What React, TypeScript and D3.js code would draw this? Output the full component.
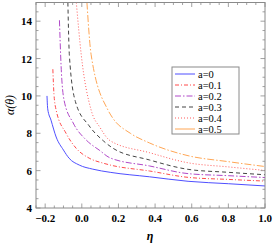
import React, { useEffect, useRef } from 'react';
import * as d3 from 'd3';

const labels = ['a=0', 'a=0.1', 'a=0.2', 'a=0.3', 'a=0.4', 'a=0.5'];
const colors = ['#4f4fff', '#ff4b4b', '#b048c8', '#444444', '#ff5a5a', '#ffa655'];
const dashes = ['none', '4,2,1,2', '6,2,1.5,2', '4,3', '1,2', '7,2,1.5,2'];

const eta0 = [-0.19, -0.186, -0.168, -0.14, -0.10, -0.07, -0.014, 0.06, 0.155, 0.37, 0.58, 0.8, 1.0];
const alpha0 = [10.0, 9.3, 8.7, 7.8, 7.1, 6.67, 6.3, 6.08, 5.91, 5.67, 5.43, 5.3, 5.18];
const eta1 = [-0.158, -0.152, -0.14, -0.086, -0.031, 0.04, 0.117, 0.155, 0.37, 0.58, 0.8, 1.0];
const alpha1 = [11.43, 10.1, 9.24, 8.0, 7.2, 6.67, 6.4, 6.3, 5.98, 5.64, 5.53, 5.44];
const eta2 = [-0.122, -0.113, -0.097, -0.047, 0.024, 0.095, 0.155, 0.37, 0.58, 0.8, 1.0];
const alpha2 = [14.05, 11.6, 9.78, 8.55, 7.64, 7.1, 6.68, 6.25, 5.84, 5.73, 5.63];
const eta3 = [-0.076, -0.068, -0.035, 0.04, 0.117, 0.17, 0.37, 0.58, 0.8, 1.0];
const alpha3 = [15.0, 12.2, 9.7, 8.4, 7.6, 7.2, 6.57, 6.07, 5.91, 5.78];
const eta4 = [-0.03, -0.003, 0.051, 0.1, 0.155, 0.37, 0.58, 0.8, 1.0];
const alpha4 = [15.0, 12.2, 9.24, 8.3, 7.6, 6.96, 6.42, 6.2, 6.01];
const eta5 = [0.028, 0.051, 0.143, 0.17, 0.265, 0.37, 0.58, 0.8, 1.0];
const alpha5 = [15.0, 12.2, 9.24, 8.8, 8.0, 7.48, 6.8, 6.48, 6.22];

const etas = [eta0, eta1, eta2, eta3, eta4, eta5];
const alphas = [alpha0, alpha1, alpha2, alpha3, alpha4, alpha5];

const xTicks = [-0.2, 0, 0.2, 0.4, 0.6, 0.8, 1.0];
const yTicks = [4, 6, 8, 10, 12, 14];

const App: React.FC = () => {
  const svgRef = useRef<SVGSVGElement>(null);

  useEffect(() => {
    const svg = d3.select(svgRef.current);
    svg.selectAll('*').remove();
    const left = 36, right = 265, top = 2.5, bottom = 208;
    const x = d3.scaleLinear().domain([-0.25, 1.0]).range([left, right]);
    const y = d3.scaleLinear().domain([4, 15]).range([bottom, top]);
    const frame = '#8a8a8a';
    const font = '"Liberation Serif", "DejaVu Serif", serif';

    const defs = svg.append('defs');
    defs.append('clipPath').attr('id', 'plotclip')
      .append('rect').attr('x', left).attr('y', top).attr('width', right - left).attr('height', bottom - top);

    // curves
    const plot = svg.append('g').attr('clip-path', 'url(#plotclip)');
    etas.forEach((es, i) => {
      const pts = es.map((e, j) => [e, alphas[i][j]] as [number, number]);
      const line = d3.line<[number, number]>().x(d => x(d[0])).y(d => y(d[1])).curve(d3.curveMonotoneX);
      plot.append('path')
        .datum(pts)
        .attr('fill', 'none')
        .attr('stroke', colors[i])
        .attr('stroke-width', 1)
        .attr('stroke-dasharray', dashes[i])
        .attr('d', line);
    });

    // frame
    svg.append('rect')
      .attr('x', left).attr('y', top).attr('width', right - left).attr('height', bottom - top)
      .attr('fill', 'none').attr('stroke', frame).attr('stroke-width', 1);

    // ticks
    const ticks = svg.append('g').attr('stroke', frame).attr('stroke-width', 0.8);
    d3.range(-0.25, 1.0001, 0.05).forEach(v => {
      const major = xTicks.some(t => Math.abs(t - v) < 1e-6);
      const len = major ? 4.5 : 2.5;
      ticks.append('line').attr('x1', x(v)).attr('x2', x(v)).attr('y1', bottom).attr('y2', bottom - len);
      ticks.append('line').attr('x1', x(v)).attr('x2', x(v)).attr('y1', top).attr('y2', top + len);
    });
    d3.range(4, 15.0001, 0.5).forEach(v => {
      const major = yTicks.some(t => Math.abs(t - v) < 1e-6);
      const len = major ? 4.5 : 2.5;
      ticks.append('line').attr('y1', y(v)).attr('y2', y(v)).attr('x1', left).attr('x2', left + len);
      ticks.append('line').attr('y1', y(v)).attr('y2', y(v)).attr('x1', right).attr('x2', right - len);
    });

    // tick labels
    svg.append('g').selectAll('text').data(xTicks).join('text')
      .attr('x', d => x(d)).attr('y', 222)
      .attr('text-anchor', 'middle')
      .attr('font-family', font).attr('font-weight', 'bold').attr('font-size', 11)
      .text(d => d3.format('.1f')(d).replace('-', '\u2212'));
    svg.append('g').selectAll('text').data(yTicks).join('text')
      .attr('x', 32).attr('y', d => y(d) + 4)
      .attr('text-anchor', 'end')
      .attr('font-family', font).attr('font-weight', 'bold').attr('font-size', 11)
      .text(d => String(d));

    // axis titles
    svg.append('text')
      .attr('x', 150).attr('y', 240)
      .attr('text-anchor', 'middle')
      .attr('font-family', font).attr('font-style', 'italic').attr('font-weight', 'bold').attr('font-size', 12)
      .text('\u03b7');
    svg.append('text')
      .attr('transform', `translate(14,${105}) rotate(-90)`)
      .attr('text-anchor', 'middle')
      .attr('font-family', font).attr('font-style', 'italic').attr('font-size', 12)
      .text('\u03b1(\u03b8)');

    // legend
    const lg = svg.append('g');
    lg.append('rect')
      .attr('x', 172).attr('y', 67).attr('width', 67).attr('height', 67)
      .attr('fill', 'white').attr('stroke', frame).attr('stroke-width', 1);
    labels.forEach((lab, i) => {
      const ly = 74 + i * 11;
      lg.append('line')
        .attr('x1', 175).attr('x2', 195).attr('y1', ly).attr('y2', ly)
        .attr('stroke', colors[i]).attr('stroke-width', 1)
        .attr('stroke-dasharray', i === 5 ? 'none' : dashes[i]);
      lg.append('text')
        .attr('x', 198).attr('y', ly + 3.5)
        .attr('font-family', font).attr('font-size', 10.5)
        .text(lab);
    });

    return () => {
      svg.selectAll('*').remove();
    };
  }, []);

  return (
    <svg ref={svgRef} width={273} height={246} style={{ position: 'absolute', left: 0, top: 0, background: 'white' }}></svg>
  );
};

export default App;
